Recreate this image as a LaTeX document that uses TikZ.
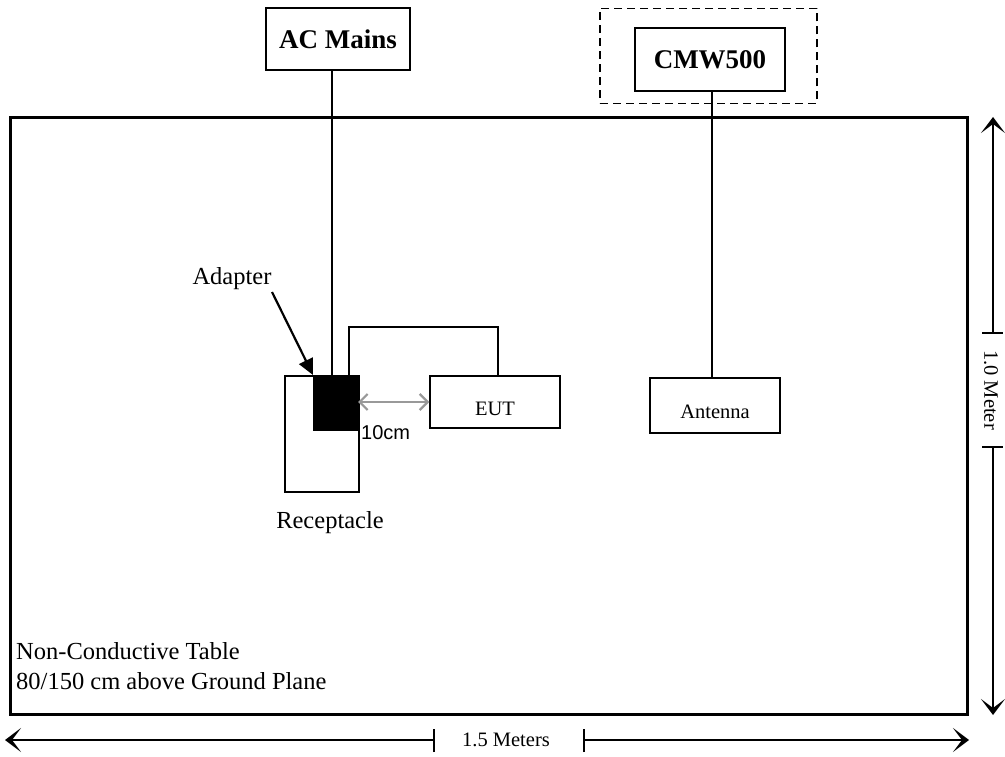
\documentclass[tikz,border=0pt]{standalone}
\usepackage{fontspec}
\setmainfont{Liberation Serif}
\newfontfamily\arialfont{Liberation Sans}
\usetikzlibrary{arrows.meta}
\begin{document}
\begin{tikzpicture}[x=1pt,y=-1pt,
  box/.style={draw,line width=1.4pt,inner sep=0pt},
  big/.style={font=\fontsize{24.5}{30}\selectfont,inner sep=0pt},
  small/.style={font=\fontsize{20.5}{24}\selectfont,inner sep=0pt},
  title/.style={font=\fontsize{27}{30}\selectfont\bfseries},
  wire/.style={line width=1.4pt},
  dim/.style={line width=1.4pt},
  dimtip/.style={-{Stealth[length=16pt,width=24pt,inset=9pt]}},
]
\useasboundingbox (0,0) rectangle (1005,757);
% table
\node[draw,line width=3pt,minimum width=957pt,minimum height=596pt,inner sep=0pt] (table) at (488.5,416) {};
% top boxes
\node[box,minimum width=144pt,minimum height=62pt,title] (ac) at (338,39) {AC Mains};
\node[draw,line width=1.4pt,minimum width=217pt,minimum height=95pt,inner sep=0pt,dash pattern=on 8pt off 5pt] (dash) at (708.5,56) {};
\node[box,minimum width=150pt,minimum height=63pt,title] (cmw) at (710,59.5) {CMW500};
% inner boxes
\node[box,minimum width=74pt,minimum height=116pt] (rec) at (322,434) {};
\node[draw,fill=black,line width=1pt,minimum width=44pt,minimum height=54pt,inner sep=0pt] (adapt) at (335.5,403) {};
\node[box,minimum width=130pt,minimum height=52pt] (eut) at (495,402) {};
\node[small] (eutlbl) at ([yshift=-7pt]eut.center) {EUT};
\node[box,minimum width=130pt,minimum height=55pt] (ant) at (715,405.5) {};
\node[small] (antlbl) at ([yshift=-6pt]ant.center) {Antenna};
% labels
\node[big,anchor=base] (adlbl) at (232,284) {Adapter};
\node[big,anchor=base] (reclbl) at (330,528) {Receptacle};
\node[big,anchor=base west] (tbl1) at (16,659) {Non-Conductive Table};
\node[big,anchor=base west] (tbl2) at (16,689) {80/150 cm above Ground Plane};
\node[font=\arialfont\fontsize{20}{22}\selectfont,anchor=base west,inner sep=0pt] (cm) at (361,439) {10cm};
% connectors
\coordinate (acb) at (332,70);
\draw[wire] (acb) -- (acb |- adapt.north);
\draw[wire] (cmw.south -| 712,0) -- (712,0 |- ant.north);
\coordinate (w1) at (349,376);
\coordinate (w2) at (349,327);
\coordinate (w3) at (498,327);
\draw[wire] (w1) -- (w2) -- (w3) -- (w3 |- eut.north);
\coordinate (adtail) at (272,292);
\coordinate (adtip) at (313,375);
\draw[line width=2.2pt,-{Triangle[length=16pt,width=15pt]}] (adtail) -- (adtip);
\draw[gray!80,line width=2.2pt,{Straight Barb[length=8pt,width=16pt]}-{Straight Barb[length=8pt,width=16pt]}] (adapt.east |- 0,402) -- (eut.west |- 0,402);
% right dimension
\coordinate (r1) at (993,117);
\coordinate (r2) at (993,333);
\coordinate (r3) at (993,447);
\coordinate (r4) at (993,715);
\draw[dim,dimtip] (r2) -- (r1);
\draw[dim,dimtip] (r3) -- (r4);
\draw[dim] ([xshift=-11pt]r2) -- ([xshift=10pt]r2);
\draw[dim] ([xshift=-11pt]r3) -- ([xshift=10pt]r3);
\node[small,rotate=-90] (mlbl) at (991,390) {1.0 Meter};
% bottom dimension
\coordinate (b1) at (5,740);
\coordinate (b2) at (434,740);
\coordinate (b3) at (584,740);
\coordinate (b4) at (969,740);
\draw[dim,dimtip] (b2) -- (b1);
\draw[dim,dimtip] (b3) -- (b4);
\draw[dim] ([yshift=-12pt]b2) -- ([yshift=11pt]b2);
\draw[dim] ([yshift=-12pt]b3) -- ([yshift=11pt]b3);
\node[small] (blbl) at (506,740) {1.5 Meters};
\end{tikzpicture}
\end{document}
